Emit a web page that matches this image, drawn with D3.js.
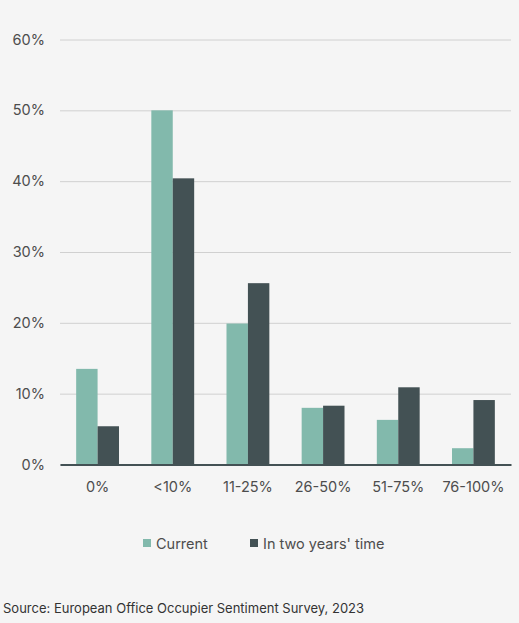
<!DOCTYPE html>
<html>
<head>
<meta charset="utf-8">
<script src="https://cdn.jsdelivr.net/npm/d3@7"></script>
<style>
  html, body { margin: 0; padding: 0; background: #f5f5f5; }
  svg { display: block; }
  svg text { font-family: Inter, "Noto Sans", sans-serif; }
</style>
</head>
<body>
<svg id="chart" width="519" height="623"></svg>
<script>
// data
const categories = ["0%", "<10%", "11-25%", "26-50%", "51-75%", "76-100%"];
const seriesNames = ["Current", "In two years' time"];
const currentValues = [13.5, 50.0, 19.9, 8.0, 6.3, 2.3];
const futureValues = [5.4, 40.4, 25.6, 8.3, 10.9, 9.1];
const yTicks = [0, 10, 20, 30, 40, 50, 60];
const sourceText = "Source: European Office Occupier Sentiment Survey, 2023";

const COLORS = ["#82b9ac", "#435154"];
const TEXT_COLOR = "#4d4d4d";
const FONT = "Inter, 'Noto Sans', sans-serif";

const margin = { left: 60, right: 8, top: 39.5, bottom: 158.5 };
const width = 519, height = 623;
const plotW = width - margin.left - margin.right;
const plotH = height - margin.top - margin.bottom;

const svg = d3.select("#chart");
const g = svg.append("g").attr("transform", `translate(${margin.left},${margin.top})`);

const x0 = d3.scaleBand().domain(categories).range([0, plotW]).paddingInner(0.43).paddingOuter(0.215);
const x1 = d3.scaleBand().domain(seriesNames).range([0, x0.bandwidth()]);
const y = d3.scaleLinear().domain([0, 60]).range([plotH, 0]);

//gridlines + y labels
const yAxis = d3.axisLeft(y).tickValues(yTicks).tickSize(-plotW).tickPadding(15).tickFormat(d => d + "%");
g.append("g").attr("class", "y-axis").call(yAxis)
    .attr("font-family", FONT).attr("font-size", 14.5)
    .call(s => s.select(".domain").remove())
    .call(s => s.selectAll(".tick line").attr("stroke", "#d0d0d0").attr("stroke-width", 1))
    .call(s => s.selectAll(".tick text").attr("fill", TEXT_COLOR));

//bars
const rows = categories.map((c, i) => ({ key: c, values: [currentValues[i], futureValues[i]] }));
const groupG = g.selectAll("g.group").data(rows).join("g")
    .attr("class", "group")
    .attr("transform", d => `translate(${x0(d.key)},0)`);
groupG.selectAll("rect").data(d => d.values.map((v, j) => ({ name: seriesNames[j], v, j })))
    .join("rect")
        .attr("x", d => x1(d.name))
        .attr("width", x1.bandwidth())
        .attr("y", d => y(d.v))
        .attr("height", d => y(0) - y(d.v))
        .attr("fill", d => COLORS[d.j]);

//baseline + x labels
const xAxis = d3.axisBottom(x0).tickSize(0).tickPadding(17);
g.append("g").attr("class", "x-axis").attr("transform", `translate(0,${plotH})`).call(xAxis)
    .attr("font-family", FONT).attr("font-size", 14.5)
    .call(s => s.select(".domain").attr("stroke", "#435154").attr("stroke-width", 2))
    .call(s => s.selectAll(".tick text").attr("fill", TEXT_COLOR));

//legend
const legendItems = [{ name: seriesNames[0], x: 143 }, { name: seriesNames[1], x: 250 }];
const legendG = svg.append("g").attr("class", "legend");
legendItems.forEach((d, i) => {
    legendG.append("rect")
        .attr("x", d.x).attr("y", 539).attr("width", 8).attr("height", 8)
        .attr("fill", COLORS[i]);
    legendG.append("text")
        .attr("x", d.x + 13).attr("y", 549)
        .attr("font-size", 14.5).attr("fill", TEXT_COLOR)
        .text(d.name);
});

//source
svg.append("text")
    .attr("x", 3).attr("y", 613)
    .attr("font-size", 13).attr("fill", "#333")
    .text(sourceText);
</script>
</body>
</html>
